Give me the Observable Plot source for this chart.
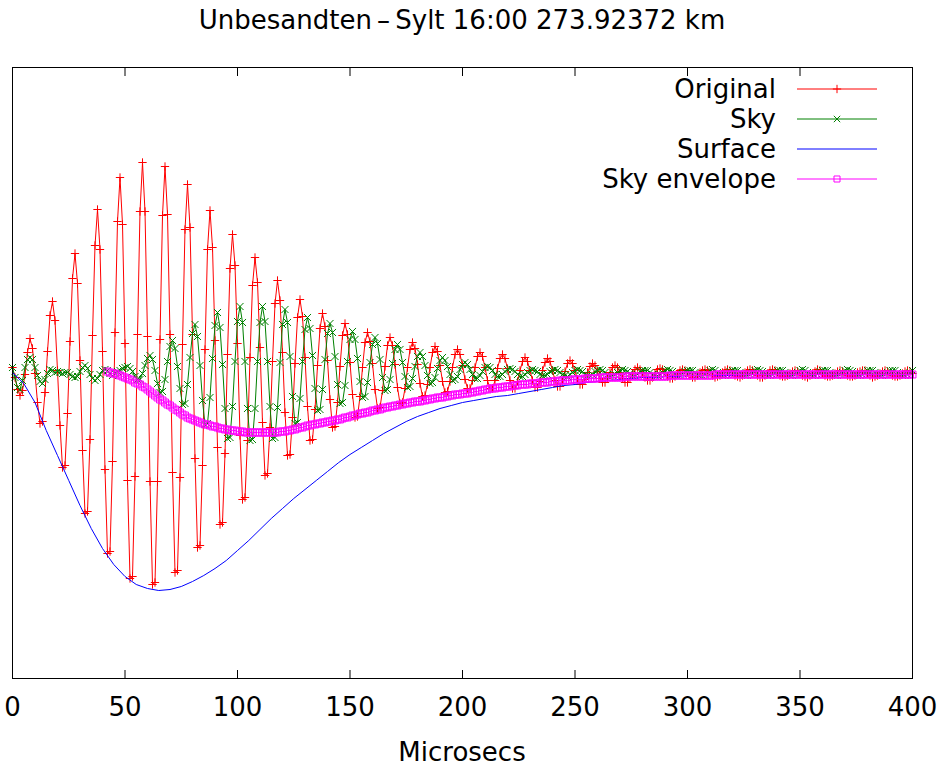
<!DOCTYPE html>
<html><head><meta charset="utf-8">
<script src="https://cdn.jsdelivr.net/npm/d3@7"></script>
<script src="https://cdn.jsdelivr.net/npm/@observablehq/plot@0.6"></script>
<style>body{margin:0;background:#fff} svg{display:block}</style>
</head><body><div id="chart"></div>
<script>
const title = "Unbesandten\u2009\u2013\u2009Sylt 16:00 273.92372 km";
const xLabel = "Microsecs";
const xTicks = [0, 50, 100, 150, 200, 250, 300, 350, 400];
const seriesNames = ["Original", "Sky", "Surface", "Sky envelope"];
const sampleStep = 10 / 9;       // microseconds between samples
const envelopeStartIndex = 38;   // first sample of the envelope
const surfaceStep = 5;           // microseconds between surface readings

const originalValues = [5,-5,-17,-23,-18,-2,20,
34,24,-1,-30,-51,-49,-20,21,57,
71,52,2,-53,-95,-93,-41,31,94,
119,89,12,-78,-141,-139,-67,37,127,
163,123,21,-97,-181,-179,-89,40,151,
195,148,29,-108,-206,-204,-104,38,161,
210,161,36,-109,-212,-210,-109,33,157,
206,158,38,-100,-200,-198,-105,28,143,
188,145,38,-86,-175,-173,-93,23,123,
162,125,32,-75,-152,-150,-81,18,104,
138,107,29,-63,-127,-125,-68,15,87,
115,90,25,-50,-103,-101,-55,11,69,
92,72,20,-40,-83,-82,-45,9,55,
73,56,15,-34,-68,-67,-37,7,44,
59,46,12,-27,-55,-54,-30,6,37,
49,38,10,-22,-45,-44,-24,5,30,
40,31,9,-17,-36,-35,-18,6,27,
35,27,8,-15,-31,-30,-16,5,23,
30,24,8,-11,-24,-23,-12,5,20,
26,21,7,-9,-20,-19,-9,5,18,
23,18,7,-7,-16,-16,-8,5,16,
20,16,5,-8,-16,-16,-8,4,14,
18,14,4,-8,-16,-16,-9,2,11,
15,11,2,-8,-15,-15,-9,2,10,
14,11,2,-8,-14,-14,-8,1,9,
12,9,2,-7,-12,-12,-7,0,6,
9,7,1,-6,-10,-10,-6,0,5,
7,5,0,-6,-10,-10,-6,-1,3,
5,3,0,-5,-8,-8,-5,-1,3,
4,3,0,-4,-6,-6,-4,-1,2,
3,2,0,-3,-5,-5,-3,0,2,
3,2,0,-3,-5,-4,-3,0,2,
3,2,0,-3,-4,-5,-3,0,2,
3,2,0,-3,-5,-5,-3,-1,2,
3,2,0,-3,-4,-4,-3,-1,1,
2,1,-1,-3,-4,-5,-3,-1,1,
3,2,-1,-3,-4,-4,-3,-1,1,
2,1,-1,-3,-4,-4,-3,0,1,
2,2,-1,-3,-5,-4,-3,-1,1,
2,1,-1,-3,-4,-4,-3,-1,1,
2,1,-1];

const skyValues = [5,-5,-15,-17,-8,5,13,15,13,5,-3,-9,-11,-7,-1,3,2,0,1,0,-1,0,0,-2,-4,-5,-4,1,5,7,4,-2,-6,-8,-6,-2,2,3,2,-1,-3,-1,1,2,4,5,
6,4,1,-4,-7,-7,-1,7,14,
17,13,2,-11,-20,-19,-7,11,26,
32,24,6,-16,-32,-31,-12,15,39,
48,36,7,-28,-52,-51,-25,14,47,
60,45,8,-36,-66,-65,-34,11,51,
66,50,11,-36,-68,-67,-36,11,50,
66,51,11,-34,-66,-65,-35,10,48,
63,50,16,-24,-51,-50,-26,11,43,
55,44,17,-16,-38,-37,-17,13,39,
49,40,16,-12,-31,-30,-13,11,33,
41,33,14,-9,-25,-24,-10,10,28,
35,29,13,-5,-18,-17,-7,9,23,
28,23,10,-4,-15,-14,-6,6,16,
20,16,7,-3,-11,-10,-5,4,12,
15,12,6,-2,-8,-7,-4,3,8,
10,8,3,-2,-6,-6,-3,1,5,
6,5,2,-2,-4,-4,-2,1,3,
4,3,1,-2,-4,-4,-2,0,2,
3,2,1,-2,-3,-3,-2,1,2,
3,2,0,-2,-3,-4,-2,0,2,
3,2,1,-2,-3,-3,-2,1,2,
3,2,0,-2,-4,-3,-2,0,2,
3,2,1,-1,-3,-3,-2,1,2,
2,2,0,-2,-3,-3,-2,0,2,
3,2,1,-2,-3,-3,-1,1,2,
2,2,0,-2,-3,-3,-2,0,2,
3,2,0,-2,-3,-3,-2,1,2,
2,2,0,-2,-3,-3,-2,0,2,
3,2,1,-2,-3,-3,-2,0,2,
2,2,0,-2,-3,-3,-2,0,2,
3,2,0,-2,-3,-3,-2,1,2,
2,2,0,-2,-3,-3,-2,0,2,
3,2,1,-2,-3,-3,-2,0,2,
2,2,0,-2,-3,-3,-2,0,2,
2,2,0,-2,-3,-3,-2,0,2];

const surfaceValues = [0,-11,-30,-58,-83,-108,-133,-156,-176,-192,-204,-212,-216,-218,-217,-214,-209,-203,-196,-188,
-178,-168,-157,-146,-136,-126,-117,-108,-99,-90,-82,-75,-68,-61,-55,-49,-44,-40,-36,-33,
-30,-28,-26,-24,-23,-21,-19,-17,-15,-13,-12,-10,-9,-8,-7,-6,-5,-5,-4,-4,
-3,-3,-3,-3,-3,-2,-2,-2,-2,-2,-2,-2,-2,-2,-2,-2,-2,-2,-2,-2,-2];

const envelopeValues = [1,0,-1,-1,-2,-3,-4,-5,-6,-7,
-8,-10,-11,-12,-14,-15,-17,-19,-21,-23,
-25,-27,-28,-30,-32,-33,-35,-37,-38,-40,
-42,-43,-45,-46,-47,-48,-49,-50,-51,-52,
-52,-53,-54,-54,-55,-56,-56,-57,-57,-58,
-58,-58,-59,-59,-59,-60,-60,-60,-60,-60,
-60,-60,-60,-60,-60,-60,-60,-60,-60,-59,
-59,-59,-58,-58,-57,-57,-56,-55,-55,-54,
-53,-53,-52,-52,-51,-51,-50,-50,-49,-49,
-48,-48,-47,-47,-46,-45,-45,-44,-43,-43,
-42,-41,-41,-40,-40,-39,-38,-38,-37,-37,
-36,-35,-35,-34,-34,-33,-33,-32,-32,-31,
-31,-30,-30,-29,-29,-29,-28,-28,-27,-27,
-26,-26,-25,-25,-25,-24,-24,-23,-23,-22,
-22,-22,-21,-21,-21,-20,-20,-19,-19,-18,
-18,-17,-17,-16,-16,-16,-15,-15,-15,-14,
-14,-14,-13,-13,-13,-12,-12,-12,-12,-11,
-11,-11,-11,-10,-10,-10,-10,-9,-9,-9,
-9,-8,-8,-8,-8,-8,-7,-7,-7,-7,
-7,-6,-6,-6,-6,-6,-6,-5,-5,-5,
-5,-5,-5,-5,-5,-5,-5,-4,-4,-4,
-4,-4,-4,-4,-4,-4,-4,-4,-4,-4,
-4,-4,-4,-4,-4,-3,-3,-3,-3,-3,
-3,-3,-3,-3,-3,-3,-3,-3,-3,-3,
-3,-3,-3,-2,-2,-2,-2,-2,-2,-2,
-2,-2,-2,-2,-2,-2,-2,-2,-2,-2,
-2,-2,-2,-2,-2,-2,-2,-2,-2,-2,
-2,-2,-2,-2,-2,-2,-2,-2,-2,-2,
-2,-2,-2,-2,-2,-2,-2,-2,-2,-2,
-2,-2,-2,-2,-2,-2,-2,-2,-2,-2,
-2,-2,-2,-2,-2,-2,-2,-2,-2,-2,
-2,-2,-2,-2,-2,-2,-2,-2,-2,-2,
-2,-2,-2];

const rows = (vals, start, step) => vals.map((v, i) => ({t: (start + i) * step, v}));
const original = rows(originalValues, 0, sampleStep);
const sky = rows(skyValues, 0, sampleStep);
const envelope = rows(envelopeValues, envelopeStartIndex, sampleStep);
const surface = rows(surfaceValues, 0, surfaceStep);

const colors = ["#ff0000", "#008000", "#0000ff", "#ff00ff"];
const symbolNames = ["plus", "times", null, "square"];
const symbolR = [2.8, 3.3, 0, 3.9];
const font = "'DejaVu Sans', sans-serif";

const W = 947, H = 770;
const M = {top: 67, right: 35, bottom: 92, left: 12};

const svg = Plot.plot({
  width: W, height: H,
  marginTop: M.top, marginRight: M.right, marginBottom: M.bottom, marginLeft: M.left,
  style: {fontFamily: font, fontSize: "26px", background: "white", color: "black", overflow: "visible"},
  x: {domain: [0, 400]},
  y: {domain: [-306, 305], axis: null},
  marks: [
    Plot.line(original, {x: "t", y: "v", stroke: colors[0], strokeWidth: 1}),
    Plot.dot(original, {x: "t", y: "v", symbol: "plus", r: symbolR[0], stroke: colors[0], fill: "none", strokeWidth: 1}),
    Plot.line(sky, {x: "t", y: "v", stroke: colors[1], strokeWidth: 1}),
    Plot.dot(sky, {x: "t", y: "v", symbol: "times", r: symbolR[1], stroke: colors[1], fill: "none", strokeWidth: 1}),
    Plot.line(surface, {x: "t", y: "v", stroke: colors[2], strokeWidth: 1}),
    Plot.line(envelope, {x: "t", y: "v", stroke: colors[3], strokeWidth: 1}),
    Plot.dot(envelope, {x: "t", y: "v", symbol: "square", r: symbolR[3], stroke: colors[3], fill: "none", strokeWidth: 1}),
    Plot.frame({stroke: "black", strokeWidth: 1}),
    Plot.axisX({anchor: "bottom", ticks: xTicks, tickSize: 8, dy: -8, tickFormat: () => "", label: null}),
    Plot.axisX({anchor: "top", ticks: xTicks, tickSize: 8, dy: 8, tickFormat: () => "", label: null}),
    Plot.axisX({anchor: "bottom", ticks: xTicks, tickSize: 0, tickPadding: 19, label: null, fontSize: 26})
  ]
});

const s = d3.select(svg);
const frameRight = W - M.right;
const frameCx = (M.left + frameRight) / 2;
s.append("text").attr("x", frameCx).attr("y", 29).attr("text-anchor", "middle")
  .attr("font-family", font).attr("font-size", 26).attr("fill", "black").text(title);
s.append("text").attr("x", frameCx).attr("y", 761).attr("text-anchor", "middle")
  .attr("font-family", font).attr("font-size", 26).attr("fill", "black").text(xLabel);

const lg = s.append("g");
const d3sym = {plus: d3.symbolPlus, times: d3.symbolTimes, square: d3.symbolSquare};
const legendR = [2.8, 3.0, 0, 3.4];
seriesNames.forEach((name, i) => {
  const cy = M.top + 22 + 30 * i;
  lg.append("text").attr("x", frameRight - 136).attr("y", cy + 9).attr("text-anchor", "end")
    .attr("font-family", font).attr("font-size", 26).attr("fill", "black").text(name);
  lg.append("line").attr("x1", frameRight - 115).attr("x2", frameRight - 35)
    .attr("y1", cy).attr("y2", cy).attr("stroke", colors[i]).attr("stroke-width", 1);
  if (symbolNames[i]) {
    const r = legendR[i];
    lg.append("path").attr("transform", `translate(${frameRight - 75},${cy})`)
      .attr("d", d3.symbol(d3sym[symbolNames[i]], r * r * Math.PI)())
      .attr("stroke", colors[i]).attr("fill", "none").attr("stroke-width", 1);
  }
});

document.getElementById("chart").appendChild(svg);
</script>
</body></html>
